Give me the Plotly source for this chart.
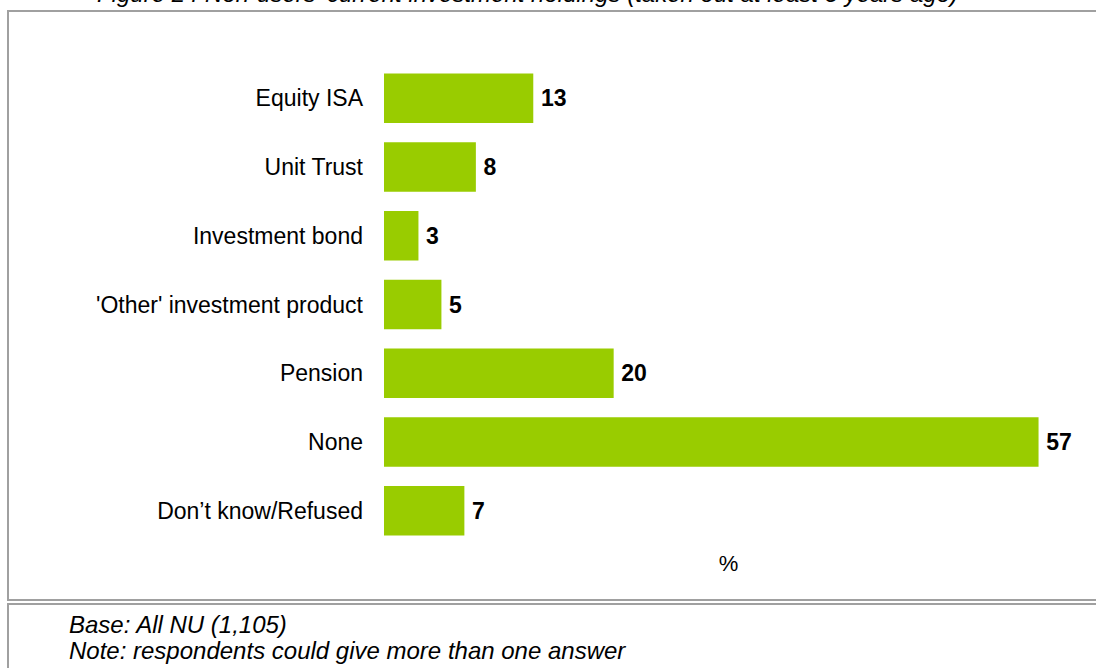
import plotly.graph_objects as go

# Holdings reported by non-users (% of respondents)
categories = [
    "Equity ISA",
    "Unit Trust",
    "Investment bond",
    "'Other' investment product",
    "Pension",
    "None",
    "Don\u2019t know/Refused",
]
values = [13, 8, 3, 5, 20, 57, 7]

title_text = "Figure 24 Non-users' current investment holdings (taken out at least 3 years ago)"
base_text = "Base: All NU (1,105)"
note_text = "Note: respondents could give more than one answer"

W, H = 1096, 668
ML, MR, MT, MB = 384, 23, 64, 123
plot_w = W - ML - MR
plot_h = H - MT - MB


def px_x(x):
    return (x - ML) / plot_w


def px_y(y):
    return (H - MB - y) / plot_h


FONT = "Liberation Sans, Arial, sans-serif"
GREEN = "#99CC00"
FRAME = "#A0A0A0"

fig = go.Figure(
    go.Bar(
        x=values,
        y=categories,
        orientation="h",
        marker=dict(color=GREEN, line=dict(width=0)),
        text=["\u2009" + str(v) for v in values],
        textposition="outside",
        textfont=dict(family=FONT, size=23, color="#000000", weight="bold"),
        cliponaxis=False,
        width=0.72,
    )
)

fig.update_layout(
    width=W,
    height=H,
    margin=dict(l=ML, r=MR, t=MT, b=MB, pad=0),
    paper_bgcolor="white",
    plot_bgcolor="white",
    showlegend=False,
    font=dict(family=FONT, color="#000000"),
    xaxis=dict(
        range=[0, 60],
        showgrid=False,
        zeroline=False,
        showline=False,
        showticklabels=False,
        ticks="",
        title=dict(text="%", font=dict(family=FONT, size=22), standoff=10),
    ),
    yaxis=dict(
        categoryorder="array",
        categoryarray=categories[::-1],
        showgrid=False,
        zeroline=False,
        showline=False,
        ticks="",
        ticklabelstandoff=20,
        tickfont=dict(family=FONT, size=23),
    ),
    shapes=[
        dict(type="rect", xref="paper", yref="paper",
             x0=px_x(8), x1=px_x(1110), y0=px_y(11), y1=px_y(600),
             line=dict(color=FRAME, width=2), fillcolor="rgba(0,0,0,0)", layer="below"),
        dict(type="rect", xref="paper", yref="paper",
             x0=px_x(8), x1=px_x(1110), y0=px_y(604), y1=px_y(690),
             line=dict(color=FRAME, width=2), fillcolor="rgba(0,0,0,0)", layer="below"),
    ],
    annotations=[
        dict(text="<i>" + title_text + "</i>", xref="paper", yref="paper",
             x=px_x(95), y=px_y(9), xanchor="left", yanchor="bottom",
             showarrow=False, font=dict(family=FONT, size=24)),
        dict(text="<i>" + base_text + "</i>", xref="paper", yref="paper",
             x=px_x(67), y=px_y(624), xanchor="left", yanchor="middle",
             showarrow=False, font=dict(family=FONT, size=24)),
        dict(text="<i>" + note_text + "</i>", xref="paper", yref="paper",
             x=px_x(67), y=px_y(650), xanchor="left", yanchor="middle",
             showarrow=False, font=dict(family=FONT, size=24)),
    ],
)

fig.write_html("out.html")
